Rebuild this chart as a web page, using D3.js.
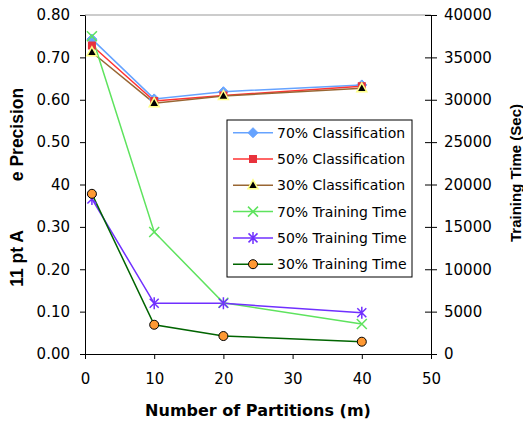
<!DOCTYPE html>
<html>
<head>
<meta charset="utf-8">
<script src="https://cdn.jsdelivr.net/npm/d3@7"></script>
<style>
  body { margin: 0; background: #fff; }
  svg { display: block; }
  .tick text { font-family: "DejaVu Sans", sans-serif; font-size: 15px; fill: #000; }
  .title { font-family: "Liberation Sans", Arial, sans-serif; font-weight: bold; fill: #000; }
</style>
</head>
<body>
<div id="chart"></div>
<script>
// data
const partitions = [1, 10, 20, 40];
const class70 = [0.743, 0.602, 0.619, 0.635];
const class50 = [0.728, 0.597, 0.610, 0.632];
const class30 = [0.712, 0.592, 0.609, 0.627];
const train70 = [37500, 14400, 6050, 3550];
const train50 = [18300, 5980, 5980, 4870];
const train30 = [18900, 3450, 2120, 1450];

const seriesNames = ["70% Classification", "50% Classification", "30% Classification",
  "70% Training Time", "50% Training Time", "30% Training Time"];

const leftTicks = [0, 0.1, 0.2, 0.3, 0.4, 0.5, 0.6, 0.7, 0.8];
const leftTickLabels = ["0.00", "0.10", "0.20", "0.30", "40", "0.50", "0.60", "0.70", "0.80"];
const rightTicks = [0, 5000, 10000, 15000, 20000, 25000, 30000, 35000, 40000];
const xTicks = [0, 10, 20, 30, 40, 50];

const W = 523, H = 423;
const svg = d3.select("#chart").append("svg").attr("width", W).attr("height", H);

const x = d3.scaleLinear().domain([0, 50]).range([85, 431]);
const yL = d3.scaleLinear().domain([0, 0.8]).range([354, 15]);
const yR = d3.scaleLinear().domain([0, 40000]).range([354, 15]);

const series = [
  { name: seriesNames[0], values: class70, y: yL, color: "#66a3ff", marker: "diamond" },
  { name: seriesNames[1], values: class50, y: yL, color: "#ff3333", marker: "square" },
  { name: seriesNames[2], values: class30, y: yL, color: "#996633", marker: "triangle" },
  { name: seriesNames[3], values: train70, y: yR, color: "#5ee35e", marker: "x" },
  { name: seriesNames[4], values: train50, y: yR, color: "#7030ff", marker: "star" },
  { name: seriesNames[5], values: train30, y: yR, color: "#006400", marker: "circle" }
];

function drawMarker(g, type, color) {
  if (type === "diamond") {
    g.append("path").attr("d", "M0,-5L5,0L0,5L-5,0Z").attr("fill", color).attr("stroke", color);
  } else if (type === "square") {
    g.append("rect").attr("x", -4).attr("y", -4).attr("width", 8).attr("height", 8).attr("fill", "#e8323c");
  } else if (type === "triangle") {
    g.append("path").attr("d", "M0,-5.5L5,3.5L-5,3.5Z").attr("fill", "#000")
      .attr("stroke", "#ffff88").attr("stroke-width", 1.5);
  } else if (type === "x") {
    g.append("path").attr("d", "M-5,-5L5,5M-5,5L5,-5").attr("stroke", color).attr("stroke-width", 1.5);
  } else if (type === "star") {
    g.append("path").attr("d", "M-4.5,-4.5L4.5,4.5M-4.5,4.5L4.5,-4.5M0,-6L0,6")
      .attr("stroke", color).attr("stroke-width", 1.5);
  } else {
    g.append("circle").attr("r", 4.5).attr("fill", "#ff9933").attr("stroke", "#000").attr("stroke-width", 1);
  }
}

// frame top
svg.append("line").attr("x1", 85).attr("x2", 431).attr("y1", 15).attr("y2", 15)
  .attr("stroke", "#999").attr("stroke-width", 1);

// axes
svg.append("g")
  .attr("transform", "translate(85,0)")
  .call(d3.axisLeft(yL).tickValues(leftTicks).tickFormat((d, i) => leftTickLabels[i])
    .tickSize(5).tickSizeOuter(0).tickPadding(10))
  .call(g => g.selectAll("path, line").attr("stroke", "#000"));

svg.append("g")
  .attr("transform", "translate(431,0)")
  .call(d3.axisRight(yR).tickValues(rightTicks).tickFormat(d3.format("d"))
    .tickSize(6).tickSizeOuter(0).tickPadding(7))
  .call(g => g.selectAll(".tick line").attr("x1", -6))
  .call(g => g.selectAll("path, line").attr("stroke", "#000"));

svg.append("g")
  .attr("transform", "translate(0,354)")
  .call(d3.axisBottom(x).tickValues(xTicks).tickSize(5).tickSizeOuter(0).tickPadding(14))
  .call(g => g.selectAll("path, line").attr("stroke", "#000"));

// lines and markers
series.forEach(s => {
  const line = d3.line().x((d, i) => x(partitions[i])).y(d => s.y(d));
  svg.append("path")
    .datum(s.values)
    .attr("fill", "none")
    .attr("stroke", s.color)
    .attr("stroke-width", 1.5)
    .attr("d", line);
});
series.forEach(s => {
  s.values.forEach((v, i) => {
    const g = svg.append("g").attr("transform", `translate(${x(partitions[i])},${s.y(v)})`);
    drawMarker(g, s.marker, s.color);
  });
});

// titles
svg.append("text").attr("class", "title")
  .attr("x", 258).attr("y", 416).attr("text-anchor", "middle")
  .style("font-family", "'DejaVu Sans', sans-serif").style("font-size", "16px")
  .text("Number of Partitions (m)");

svg.append("text").attr("class", "title")
  .attr("transform", "translate(23,134.5) rotate(-90)").attr("text-anchor", "middle")
  .style("font-size", "17.5px").text("e Precision");
svg.append("text").attr("class", "title")
  .attr("transform", "translate(23,258.5) rotate(-90)").attr("text-anchor", "middle")
  .style("font-size", "17.5px").text("11 pt A");

svg.append("text").attr("class", "title")
  .attr("transform", "translate(521,173) rotate(-90)").attr("text-anchor", "middle")
  .style("font-size", "15px").text("Training Time (Sec)");

// legend
const legend = svg.append("g").attr("transform", "translate(227,120)");
legend.append("rect").attr("width", 185).attr("height", 157)
  .attr("fill", "#fff").attr("stroke", "#000").attr("stroke-width", 1);

series.forEach((s, i) => {
  const row = legend.append("g").attr("transform", `translate(0,${12.7 + i * 26.3})`);
  row.append("line").attr("x1", 6).attr("x2", 46).attr("stroke", s.color).attr("stroke-width", 1.5);
  drawMarker(row.append("g").attr("transform", "translate(26,0)"), s.marker, s.color);
  row.append("text").attr("x", 50).attr("dy", "0.36em")
    .style("font-family", "'DejaVu Sans', sans-serif").style("font-size", "14px")
    .text(s.name);
});
</script>
</body>
</html>
